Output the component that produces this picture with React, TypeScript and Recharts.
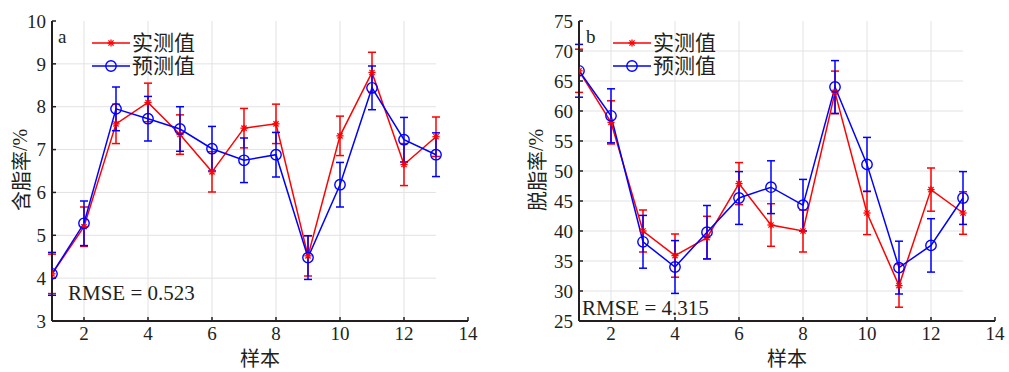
import { ErrorBar, Legend, Line, LineChart, ReferenceLine, XAxis, YAxis } from "recharts"

const samples = [1, 2, 3, 4, 5, 6, 7, 8, 9, 10, 11, 12, 13]
const sampleTicks = [2, 4, 6, 8, 10, 12, 14]

// a: 含脂率
const fatMeasured = [4.1, 5.2, 7.6, 8.1, 7.35, 6.48, 7.5, 7.6, 4.52, 7.32, 8.8, 6.65, 7.3]
const fatMeasuredErr = [0.46, 0.46, 0.46, 0.45, 0.46, 0.47, 0.46, 0.46, 0.47, 0.46, 0.47, 0.49, 0.46]
const fatPredicted = [4.1, 5.28, 7.95, 7.72, 7.48, 7.02, 6.75, 6.88, 4.48, 6.18, 8.44, 7.23, 6.88]
const fatPredictedErr = [0.5, 0.52, 0.51, 0.52, 0.52, 0.52, 0.52, 0.52, 0.51, 0.52, 0.51, 0.52, 0.51]
const fatTicks = [3, 4, 5, 6, 7, 8, 9, 10]

// b: 脱脂率
const degMeasured = [66.7, 58.1, 40.0, 35.9, 38.9, 47.9, 41.0, 40.0, 63.1, 43.0, 30.9, 46.9, 43.0]
const degMeasuredErr = [3.6, 3.6, 3.5, 3.6, 3.55, 3.5, 3.55, 3.5, 3.55, 3.6, 3.6, 3.6, 3.55]
const degPredicted = [66.7, 59.2, 38.2, 34.0, 39.8, 45.5, 47.3, 44.3, 64.0, 51.1, 33.9, 37.6, 45.5]
const degPredictedErr = [4.4, 4.5, 4.4, 4.4, 4.45, 4.4, 4.4, 4.3, 4.4, 4.5, 4.4, 4.45, 4.4]
const degTicks = [25, 30, 35, 40, 45, 50, 55, 60, 65, 70, 75]

const RED = "#ff0000"
const BLUE = "#0000ff"
const INK = "#231f20"
const GRID = "#e2e2e2"
const SERIF = '"Liberation Serif", "Times New Roman", serif'
const CJK = '"Noto Sans CJK SC", sans-serif'

const Star = ({ cx, cy, r = 3.6 }: { cx?: number; cy?: number; r?: number }) => {
  if (cx == null || cy == null) return null
  const d = r * 0.72
  return (
    <g stroke={RED} strokeWidth={1.3}>
      <line x1={cx - r} y1={cy} x2={cx + r} y2={cy} />
      <line x1={cx} y1={cy - r} x2={cx} y2={cy + r} />
      <line x1={cx - d} y1={cy - d} x2={cx + d} y2={cy + d} />
      <line x1={cx - d} y1={cy + d} x2={cx + d} y2={cy - d} />
    </g>
  )
}

const StarDot = (props: any) => <Star key={`s-${props.index}`} cx={props.cx} cy={props.cy} />

const CircleDot = (props: any) => {
  if (props.cx == null || props.cy == null) return null
  return <circle key={`c-${props.index}`} cx={props.cx} cy={props.cy} r={5.2} fill="none" stroke={BLUE} strokeWidth={1.4} />
}

type PanelProps = {
  letter: string
  yLabel: string
  rmse: string
  measured: number[]
  measuredErr: number[]
  predicted: number[]
  predictedErr: number[]
  yTicks: number[]
  yLabelX: number
  letterX: number
  legendX: number
  rmseX: number
  rmseY: number
}

function Panel(p: PanelProps) {
  const data = samples.map((s, i) => ({
    sample: s,
    measured: p.measured[i],
    measuredErr: p.measuredErr[i],
    predicted: p.predicted[i],
    predictedErr: p.predictedErr[i],
  }))
  const yMin = p.yTicks[0]
  const yMax = p.yTicks[p.yTicks.length - 1]
  const gridX = sampleTicks.filter((t) => t < 13)
  const gridY = p.yTicks.slice(1, -1)

  const overlay = () => (
    <svg width={500} height={372} overflow="visible" style={{ display: "block", overflow: "visible" }}>
      <text x={p.letterX} y={43} fontFamily={SERIF} fontSize={19} fill={INK}>
        {p.letter}
      </text>
      <line x1={p.legendX} y1={43} x2={p.legendX + 38} y2={43} stroke={RED} strokeWidth={1.5} />
      <Star cx={p.legendX + 19} cy={43} />
      <text x={p.legendX + 40} y={50} fontFamily={CJK} fontSize={21} fill={INK}>
        实测值
      </text>
      <line x1={p.legendX} y1={66} x2={p.legendX + 38} y2={66} stroke={BLUE} strokeWidth={1.5} />
      <circle cx={p.legendX + 19} cy={66} r={5.2} fill="none" stroke={BLUE} strokeWidth={1.4} />
      <text x={p.legendX + 40} y={73} fontFamily={CJK} fontSize={21} fill={INK}>
        预测值
      </text>
      <text x={p.rmseX} y={p.rmseY} fontFamily={SERIF} fontSize={21} fill={INK}>
        {p.rmse}
      </text>
      <text x={260} y={366} textAnchor="middle" fontFamily={CJK} fontSize={20} fill={INK}>
        样本
      </text>
      <text
        x={p.yLabelX}
        y={170}
        textAnchor="middle"
        dominantBaseline="central"
        transform={`rotate(-90 ${p.yLabelX} 170)`}
        fontFamily={CJK}
        fontSize={20}
        fill={INK}
      >
        {p.yLabel}
        <tspan fontFamily={SERIF}>/%</tspan>
      </text>
    </svg>
  )

  return (
    <LineChart width={500} height={372} data={data} margin={{ top: 21, right: 32, bottom: 0, left: 0 }} style={{ overflow: "visible" }}>
      {gridX.map((v) => (
        <ReferenceLine key={`gx-${v}`} x={v} stroke={GRID} strokeWidth={1} />
      ))}
      {gridY.map((v) => (
        <ReferenceLine
          key={`gy-${v}`}
          segment={[
            { x: 1, y: v },
            { x: 13, y: v },
          ]}
          stroke={GRID}
          strokeWidth={1}
        />
      ))}
      <XAxis
        type="number"
        dataKey="sample"
        domain={[1, 14]}
        ticks={sampleTicks}
        allowDataOverflow
        height={51}
        tickSize={-4}
        tickMargin={10}
        axisLine={{ stroke: INK, strokeWidth: 2 }}
        tickLine={{ stroke: INK, strokeWidth: 1.5 }}
        tick={{ fill: INK, fontSize: 19, fontFamily: SERIF }}
      />
      <YAxis
        type="number"
        domain={[yMin, yMax]}
        ticks={p.yTicks}
        allowDataOverflow
        width={52}
        tickSize={-4}
        tickMargin={10}
        axisLine={{ stroke: INK, strokeWidth: 2 }}
        tickLine={{ stroke: INK, strokeWidth: 1.5 }}
        tick={{ fill: INK, fontSize: 19, fontFamily: SERIF }}
      />
      <Legend
        layout="horizontal"
        verticalAlign="middle"
        align="center"
        content={overlay}
        wrapperStyle={{ position: "absolute", left: 0, top: 0, width: 500, height: 372, pointerEvents: "none", overflow: "visible" }}
      />
      <Line
        type="linear"
        dataKey="measured"
        stroke={RED}
        strokeWidth={1.5}
        dot={StarDot}
        activeDot={false}
        isAnimationActive={false}
      >
        <ErrorBar dataKey="measuredErr" direction="y" width={4} stroke={RED} strokeWidth={1.5} isAnimationActive={false} />
      </Line>
      <Line
        type="linear"
        dataKey="predicted"
        stroke={BLUE}
        strokeWidth={1.5}
        dot={CircleDot}
        activeDot={false}
        isAnimationActive={false}
      >
        <ErrorBar dataKey="predictedErr" direction="y" width={4} stroke={BLUE} strokeWidth={1.5} isAnimationActive={false} />
      </Line>
    </LineChart>
  )
}

export default function App() {
  return (
    <div style={{ position: "absolute", left: 0, top: 0, width: 1009, height: 372, background: "#fff" }}>
      <div style={{ position: "absolute", left: 0, top: 0 }}>
        <Panel
          letter="a"
          yLabel="含脂率"
          rmse="RMSE = 0.523"
          measured={fatMeasured}
          measuredErr={fatMeasuredErr}
          predicted={fatPredicted}
          predictedErr={fatPredictedErr}
          yTicks={fatTicks}
          yLabelX={20}
          letterX={58}
          legendX={92}
          rmseX={68}
          rmseY={300}
        />
      </div>
      <div style={{ position: "absolute", left: 527, top: 0 }}>
        <Panel
          letter="b"
          yLabel="脱脂率"
          rmse="RMSE = 4.315"
          measured={degMeasured}
          measuredErr={degMeasuredErr}
          predicted={degPredicted}
          predictedErr={degPredictedErr}
          yTicks={degTicks}
          yLabelX={9}
          letterX={59}
          legendX={86}
          rmseX={55}
          rmseY={315}
        />
      </div>
    </div>
  )
}
